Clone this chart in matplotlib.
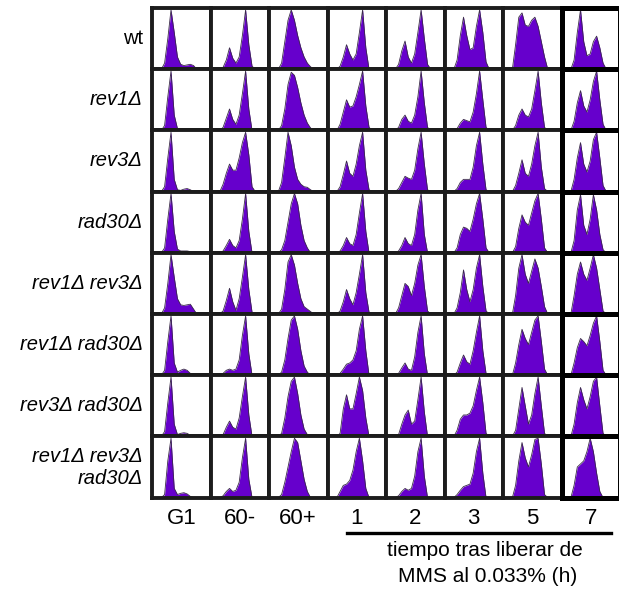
import numpy as np
import matplotlib.pyplot as plt
import matplotlib
from matplotlib.lines import Line2D
matplotlib.rcParams['font.family'] = ['Liberation Sans', 'DejaVu Sans']

# row labels (strains) and column labels (time points)
strains = ["wt", "rev1Δ", "rev3Δ", "rad30Δ", "rev1Δ rev3Δ", "rev1Δ rad30Δ",
           "rev3Δ rad30Δ", "rev1Δ rev3Δ\nrad30Δ"]
timepoints = ["G1", "60-", "60+", "1", "2", "3", "5", "7"]

# DNA content channel positions (fraction of panel width)
dna = np.linspace(0.16, 0.82, 13)

# cell counts (% of panel height), one list per column
wt = [
    [0, 10, 50, 97, 60, 20, 8, 6, 7, 8, 6, 0, 0],
    [0, 3, 15, 35, 18, 10, 20, 55, 97, 40, 5, 0, 0],
    [0, 10, 45, 80, 97, 80, 55, 35, 20, 10, 4, 0, 0],
    [0, 5, 20, 40, 25, 15, 25, 60, 97, 35, 0, 0, 0],
    [0, 8, 30, 46, 20, 10, 25, 60, 97, 50, 8, 0, 0],
    [0, 15, 55, 85, 55, 32, 35, 70, 97, 60, 12, 0, 0],
    [0, 40, 85, 92, 72, 70, 80, 85, 70, 45, 20, 0, 0],
    [0, 15, 60, 97, 45, 22, 25, 45, 54, 35, 10, 0, 0],
]
rev1 = [
    [0, 8, 55, 97, 25, 3, 0, 2, 3, 3, 0, 0, 0],
    [0, 5, 20, 35, 18, 10, 25, 60, 97, 35, 0, 0, 0],
    [0, 8, 35, 75, 95, 90, 70, 45, 25, 12, 4, 0, 0],
    [0, 10, 30, 50, 38, 40, 55, 75, 97, 40, 5, 0, 0],
    [0, 5, 18, 25, 15, 12, 25, 55, 97, 45, 5, 0, 0],
    [0, 3, 12, 18, 16, 14, 30, 60, 97, 50, 5, 0, 0],
    [0, 8, 25, 35, 25, 22, 35, 65, 97, 45, 5, 0, 0],
    [0, 15, 45, 65, 40, 30, 50, 80, 97, 50, 10, 0, 0],
]
rev3 = [
    [0, 8, 55, 97, 20, 3, 2, 4, 5, 3, 0, 0, 0],
    [0, 12, 30, 45, 35, 35, 55, 80, 97, 60, 8, 0, 0],
    [0, 15, 55, 97, 75, 40, 20, 12, 8, 7, 3, 0, 0],
    [0, 8, 28, 50, 30, 25, 45, 75, 97, 35, 3, 0, 0],
    [0, 5, 15, 25, 22, 20, 35, 70, 97, 45, 3, 0, 0],
    [0, 5, 15, 20, 20, 20, 40, 75, 97, 45, 3, 0, 0],
    [0, 10, 30, 52, 30, 25, 45, 75, 97, 40, 5, 0, 0],
    [0, 20, 55, 80, 45, 32, 50, 85, 97, 55, 10, 0, 0],
]
rad30 = [
    [0, 8, 55, 97, 35, 6, 3, 3, 3, 2, 0, 0, 0],
    [0, 3, 12, 22, 12, 8, 20, 55, 97, 35, 0, 0, 0],
    [0, 5, 20, 50, 80, 97, 80, 45, 20, 8, 0, 0, 0],
    [0, 3, 12, 25, 15, 12, 30, 65, 97, 35, 0, 0, 0],
    [0, 3, 12, 25, 15, 12, 30, 70, 97, 30, 0, 0, 0],
    [0, 8, 30, 42, 40, 35, 55, 80, 97, 55, 8, 0, 0],
    [0, 10, 40, 62, 50, 45, 65, 85, 97, 55, 8, 0, 0],
    [0, 20, 70, 95, 45, 30, 55, 95, 70, 30, 5, 0, 0],
]
rev1_rev3 = [
    [0, 10, 50, 97, 60, 25, 15, 14, 15, 16, 8, 0, 0],
    [0, 5, 22, 42, 20, 6, 25, 60, 97, 40, 3, 0, 0],
    [0, 8, 40, 85, 97, 80, 50, 25, 12, 8, 4, 0, 0],
    [0, 5, 20, 40, 25, 15, 35, 65, 97, 35, 3, 0, 0],
    [0, 10, 30, 50, 45, 30, 50, 80, 97, 45, 5, 0, 0],
    [0, 10, 35, 72, 40, 20, 40, 75, 97, 45, 5, 0, 0],
    [0, 30, 75, 97, 65, 50, 70, 90, 75, 45, 12, 0, 0],
    [0, 30, 65, 85, 65, 55, 75, 97, 75, 40, 5, 0, 0],
]
rev1_rad30 = [
    [0, 8, 55, 97, 20, 5, 8, 10, 8, 3, 0, 0, 0],
    [0, 3, 8, 10, 8, 10, 25, 65, 97, 35, 0, 0, 0],
    [0, 5, 25, 60, 90, 97, 75, 40, 15, 5, 0, 0, 0],
    [0, 3, 10, 18, 20, 25, 40, 75, 97, 40, 0, 0, 0],
    [0, 3, 12, 20, 10, 8, 30, 70, 97, 35, 0, 0, 0],
    [0, 5, 20, 33, 22, 18, 40, 70, 97, 40, 3, 0, 0],
    [0, 20, 50, 75, 60, 50, 70, 90, 97, 55, 10, 0, 0],
    [0, 20, 45, 60, 55, 48, 65, 85, 97, 55, 8, 0, 0],
]
rev3_rad30 = [
    [0, 8, 55, 97, 20, 3, 5, 6, 5, 2, 0, 0, 0],
    [0, 3, 15, 25, 15, 12, 30, 65, 97, 35, 0, 0, 0],
    [0, 5, 30, 65, 90, 97, 70, 35, 12, 3, 0, 0, 0],
    [0, 5, 45, 68, 45, 45, 70, 97, 75, 30, 0, 0, 0],
    [0, 3, 20, 35, 43, 20, 25, 60, 97, 40, 0, 0, 0],
    [0, 10, 28, 35, 35, 38, 50, 75, 97, 55, 5, 0, 0],
    [0, 10, 45, 80, 50, 20, 35, 70, 97, 50, 5, 0, 0],
    [0, 20, 55, 80, 60, 45, 65, 90, 97, 50, 5, 0, 0],
]
triple = [
    [0, 5, 60, 97, 15, 5, 7, 8, 6, 2, 0, 0, 0],
    [0, 3, 10, 15, 10, 12, 25, 65, 97, 30, 0, 0, 0],
    [0, 5, 25, 50, 75, 97, 90, 60, 30, 10, 0, 0, 0],
    [0, 10, 20, 22, 28, 45, 75, 97, 60, 15, 0, 0, 0],
    [0, 3, 10, 15, 12, 15, 35, 75, 97, 35, 0, 0, 0],
    [0, 5, 12, 18, 20, 22, 40, 75, 97, 40, 0, 0, 0],
    [0, 20, 60, 90, 65, 50, 70, 95, 97, 55, 5, 0, 0],
    [0, 20, 50, 55, 60, 75, 97, 75, 40, 10, 0, 0, 0],
]
profiles = [wt, rev1, rev3, rad30, rev1_rev3, rev1_rad30, rev3_rad30, triple]

W, H = 619, 590
fig = plt.figure(figsize=(W / 100, H / 100), dpi=100)

x0, y0 = 152, 8          # top-left of the grid in pixels
cw, rh = 58.5, 61.2      # cell width / row height

for i, strain in enumerate(strains):
    for j, tp in enumerate(timepoints):
        left = (x0 + j * cw) / W
        bottom = 1 - (y0 + (i + 1) * rh) / H
        ax = fig.add_axes([left, bottom, cw / W, rh / H])
        ax.fill_between(dna, profiles[i][j], color="#6600cc", lw=0)
        ax.plot(dna, profiles[i][j], color="#3a2a4a", lw=0.6)
        ax.set_xlim(0, 1)
        ax.set_ylim(0, 100)
        ax.set_xticks([])
        ax.set_yticks([])
        for s in ax.spines.values():
            if j == 7:
                s.set_linewidth(3.6)
                s.set_color("black")
            else:
                s.set_linewidth(2.8)
                s.set_color("#1c1c1c")
    # row label
    yc = 1 - (y0 + (i + 0.5) * rh) / H
    fig.text(143 / W, yc, strain, ha="right", va="center", fontsize=14.5,
             style="normal" if strain == "wt" else "italic",
             linespacing=1.2)

for j, tp in enumerate(timepoints):
    fig.text((x0 + (j + 0.5) * cw) / W, 1 - 519 / H, tp, ha="center",
             va="center", fontsize=16)

# bracket under the post-release time points
fig.add_artist(Line2D([347 / W, 611 / W], [1 - 533 / H, 1 - 533 / H],
                      color="black", lw=2.4))
fig.text(485 / W, 1 - 551 / H, "tiempo tras liberar de", ha="center",
         va="center", fontsize=15)
fig.text(488 / W, 1 - 577 / H, "MMS al 0.033% (h)", ha="center",
         va="center", fontsize=15)

plt.savefig("out.png", dpi=100)
